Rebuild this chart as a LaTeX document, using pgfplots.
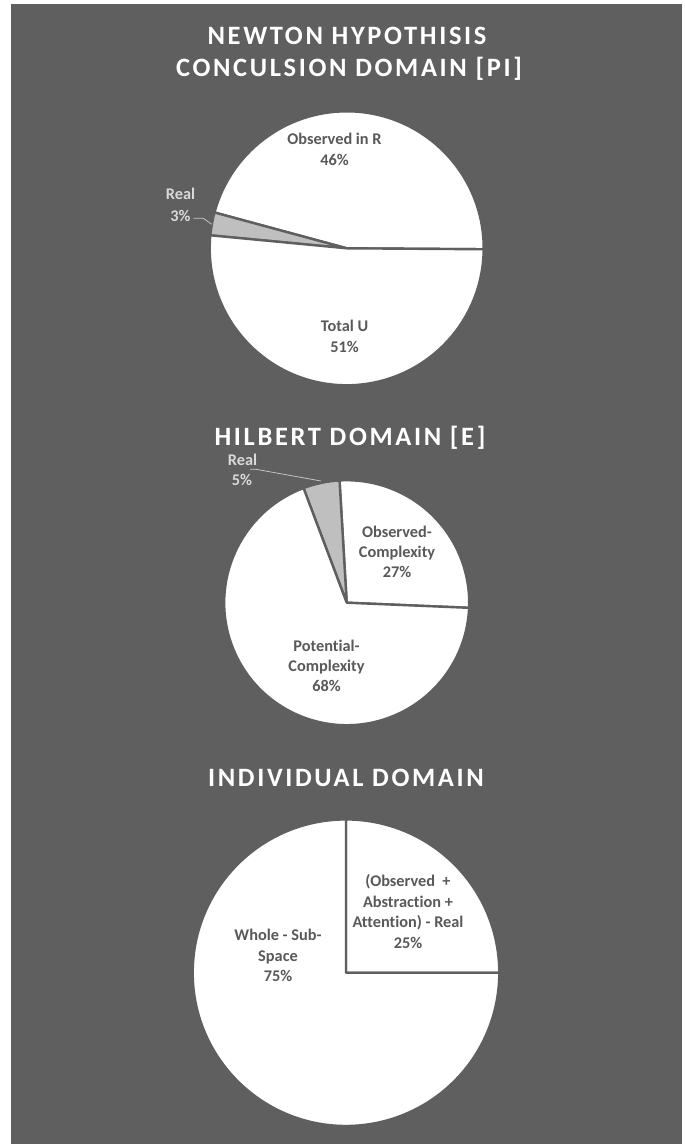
\documentclass[border=0pt]{standalone}
\usepackage{fontspec}
\setmainfont{Carlito}[Ligatures={NoCommon,NoContextual}]
\newfontfamily\titlefont{Carlito}[LetterSpace=10,Ligatures={NoCommon,NoContextual}]
\usepackage{pgfplots}
\pgfplotsset{compat=1.18}
\definecolor{bgc}{RGB}{95,95,95}
\definecolor{labc}{RGB}{89,89,89}
\definecolor{realc}{RGB}{191,191,191}
\definecolor{outc}{RGB}{217,217,217}
\definecolor{leadc}{RGB}{200,200,200}

% pie: centre x, centre y (pixels, y downwards), radius, start angle, list of percent/colour
\newcommand\pie[5]{%
  \xdef\curang{#4}%
  \foreach \v/\c in {#5}{%
    \pgfmathsetmacro\endang{\curang+3.6*\v}%
    \edef\tmp{\noexpand\fill[\c, draw=bgc, line width=2.4bp, line join=round] (axis cs:#1,#2) -- ++(\curang:#3bp) arc[start angle=\curang, end angle=\endang, radius=#3bp] -- cycle;}%
    \tmp
    \xdef\curang{\endang}%
  }%
}
\tikzset{
  lab/.style={font=\fontsize{16.3bp}{21bp}\selectfont\bfseries, text=labc, anchor=base, inner sep=0pt},
  olab/.style={font=\fontsize{16.3bp}{21bp}\selectfont\bfseries, text=outc, anchor=base, inner sep=0pt},
  ttl/.style={font=\titlefont\bfseries\fontsize{26.5bp}{32bp}\selectfont, text=white, anchor=base, inner sep=0pt},
}
\begin{document}
\begin{tikzpicture}
\begin{axis}[
  scale only axis, width=685bp, height=1144bp,
  xmin=0, xmax=685, ymin=0, ymax=1144, y dir=reverse,
  hide axis, clip=false,
]
\fill[white] (axis cs:0,0) rectangle (axis cs:685,1144);
\fill[bgc] (axis cs:11,4) rectangle (axis cs:682,1144);

% ---- Newton hypothisis: Observed in R 46, Real 3, Total U 51
\node[ttl] at (axis cs:347,45) {NEWTON HYPOTHISIS};
\node[ttl] at (axis cs:349,76.7) {CONCULSION DOMAIN [PI]};
\pie{346.7}{248.3}{137}{-0.4}{45.9/white, 2.7/realc, 51.4/white}
\node[lab] at (axis cs:334.5,145) {Observed in R};
\node[lab] at (axis cs:334.5,166) {46\%};
\node[lab] at (axis cs:344.5,331.7) {Total U};
\node[lab] at (axis cs:344.5,352.5) {51\%};
\node[olab] at (axis cs:180.5,200) {Real};
\node[olab] at (axis cs:180.5,221) {3\%};
\draw[leadc, line width=0.75bp] (axis cs:193.3,218.3) -- (axis cs:203.3,218.3) -- (axis cs:211.7,224.3);

% ---- Hilbert domain: Observed-Complexity 27, Real 5, Potential-Complexity 68
\node[ttl] at (axis cs:350,445) {HILBERT DOMAIN [E]};
\pie{346.7}{602.7}{122.5}{-2.4}{26.6/white, 4.8/realc, 68.6/white}
\node[lab] at (axis cs:397,537.3) {Observed-};
\node[lab] at (axis cs:397,557) {Complexity};
\node[lab] at (axis cs:397,577.3) {27\%};
\node[lab] at (axis cs:326.5,651.7) {Potential-};
\node[lab] at (axis cs:326.5,671.7) {Complexity};
\node[lab] at (axis cs:326.5,691.7) {68\%};
\node[olab] at (axis cs:242.5,465) {Real};
\node[olab] at (axis cs:242,485) {5\%};
\draw[leadc, line width=0.75bp] (axis cs:250,469.3) -- (axis cs:256,469.3) -- (axis cs:321,481);

% ---- Individual domain: 25 / 75
\node[ttl] at (axis cs:346,786.7) {INDIVIDUAL DOMAIN};
\pie{346}{972.7}{153.3}{0}{25/white, 75/white}
\node[lab] at (axis cs:408,886) {(Observed~ +};
\node[lab] at (axis cs:408,907) {Abstraction +};
\node[lab] at (axis cs:408,927.3) {Attention) - Real};
\node[lab] at (axis cs:408,948.3) {25\%};
\node[lab] at (axis cs:278,940.7) {Whole - Sub-};
\node[lab] at (axis cs:278,961) {Space};
\node[lab] at (axis cs:278,981.7) {75\%};
\end{axis}
\end{tikzpicture}
\end{document}
